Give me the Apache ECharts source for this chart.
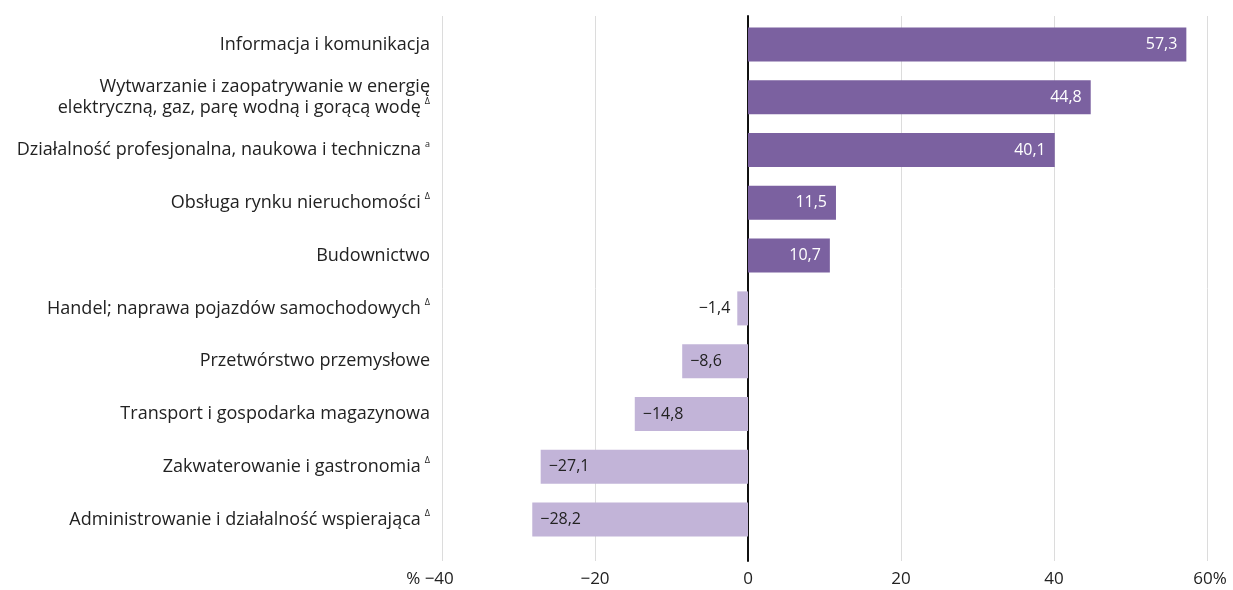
<!DOCTYPE html>
<html>
<head>
<meta charset="utf-8">
<script src="https://cdn.jsdelivr.net/npm/echarts@6/dist/echarts.min.js"></script>
<style>
html,body{margin:0;padding:0;background:#fff;}
#chart{width:1233px;height:590px;}
</style>
</head>
<body>
<div id="chart"></div>
<script>
const categories = [
  'Informacja i komunikacja',
  'Wytwarzanie i zaopatrywanie w energię\nelektryczną, gaz, parę wodną i gorącą wodę',
  'Działalność profesjonalna, naukowa i techniczna',
  'Obsługa rynku nieruchomości',
  'Budownictwo',
  'Handel; naprawa pojazdów samochodowych',
  'Przetwórstwo przemysłowe',
  'Transport i gospodarka magazynowa',
  'Zakwaterowanie i gastronomia',
  'Administrowanie i działalność wspierająca'
];
const footnotes = ['', 'Δ', 'a', 'Δ', '', 'Δ', '', '', 'Δ', 'Δ'];
const values = [57.3, 44.8, 40.1, 11.5, 10.7, -1.4, -8.6, -14.8, -27.1, -28.2];
const xTicks = ['−40', '−20', '0', '20', '40', '60'];

const FONT = 'Open Sans';
const fmt = v => v.toFixed(1).replace('.', ',').replace('-', '−');

const barData = values.map(v => ({
  value: v,
  itemStyle: { color: v >= 0 ? '#7b61a0' : '#c2b4d8' },
  label: v >= 0
    ? { position: 'insideRight', color: '#fff', distance: 9 }
    : (Math.abs(v) < 5
        ? { position: 'left', color: '#222', distance: 7 }
        : { position: 'insideLeft', color: '#222', distance: 8 })
}));

const chart = echarts.init(document.getElementById('chart'), null, { renderer: 'canvas' });
chart.setOption({
  backgroundColor: '#fff',
  animation: false,
  textStyle: { fontFamily: FONT },
  grid: [
    { left: 442, right: 26, top: 18, bottom: 44 },
    { left: 442, right: 26, top: 16, bottom: 29 }
  ],
  xAxis: [
    { gridIndex: 0, type: 'value', min: -40, max: 60, interval: 20, show: false },
    {
      gridIndex: 1, type: 'value', min: -40, max: 60, interval: 20,
      axisLine: { show: false }, axisTick: { show: false },
      splitLine: { show: true, lineStyle: { color: '#dcdcdc', width: 1 } },
      axisLabel: {
        margin: 10, fontSize: 17, color: '#222', fontFamily: FONT,
        formatter: (v) => {
          const i = Math.round((v + 40) / 20);
          if (i === 0) return '{first|% ' + xTicks[i] + '}';
          if (i === xTicks.length - 1) return '{last|' + xTicks[i] + '%}';
          return xTicks[i];
        },
        rich: {
          first: { fontSize: 17, color: '#222', fontFamily: FONT, padding: [0, 24, 0, 0] },
          last: { fontSize: 17, color: '#222', fontFamily: FONT, padding: [0, 0, 0, 6] }
        }
      }
    }
  ],
  yAxis: [
    {
      gridIndex: 0, type: 'category', data: categories, inverse: true,
      axisLine: { show: false }, axisTick: { show: false },
      axisLabel: {
        margin: 12, fontSize: 18, color: '#222', fontFamily: FONT, lineHeight: 21,
        formatter: (val, idx) => {
          const f = footnotes[idx];
          return f ? val + '{sup|' + f + '}' : val;
        },
        rich: { sup: { fontSize: 9, color: '#222', fontFamily: FONT, verticalAlign: 'top', padding: [0, 0, 9, 4] } }
      }
    },
    {
      gridIndex: 1, type: 'value', min: 0, max: 1,
      axisLabel: { show: false }, axisTick: { show: false }, splitLine: { show: false },
      axisLine: { show: true, onZero: true, lineStyle: { color: '#111', width: 2 } }
    }
  ],
  series: [
    {
      type: 'bar', xAxisIndex: 0, yAxisIndex: 0, data: barData, barWidth: 34, z: 3,
      label: { show: true, fontSize: 16, fontFamily: FONT, formatter: p => fmt(p.value) }
    }
  ]
});
</script>
</body>
</html>
